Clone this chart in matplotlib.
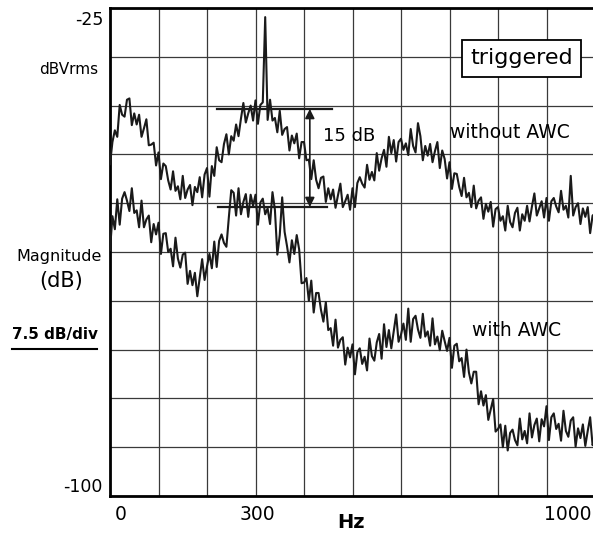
import numpy as np
import matplotlib
matplotlib.use("Agg")
import matplotlib.pyplot as plt
from matplotlib.lines import Line2D

# Spectrum analyser trace, 5 Hz bins from 0 to 1000 Hz
freq_hz = np.linspace(0, 1000, 201)

# Magnitude in dBVrms
without_awc = [
    -49.0, -45.6, -43.8, -44.8, -39.9, -41.4, -41.7, -39.1, -38.9, -43.0,
    -41.2, -42.9, -41.4, -44.8, -43.5, -42.1, -46.1, -46.0, -45.7, -49.2,
    -47.2, -51.3, -48.9, -49.3, -51.5, -52.9, -50.1, -53.1, -52.4, -54.4,
    -50.8, -54.2, -52.9, -52.2, -55.3, -52.5, -53.3, -51.0, -54.1, -50.6,
    -49.6, -54.0, -49.3, -50.8, -46.4, -48.4, -48.7, -45.9, -44.4, -47.5,
    -44.7, -45.4, -42.9, -44.7, -42.0, -39.6, -42.6, -41.2, -40.0, -42.3,
    -39.2, -42.8, -39.9, -39.5, -26.4, -42.2, -39.1, -42.3, -41.9, -44.1,
    -40.8, -44.5, -43.6, -43.3, -46.9, -44.6, -45.8, -44.3, -48.1, -45.6,
    -45.6, -48.4, -48.3, -51.3, -48.4, -51.4, -52.7, -51.1, -50.9, -54.8,
    -52.7, -54.4, -52.9, -55.7, -53.8, -52.0, -55.6, -54.7, -53.7, -56.0,
    -52.7, -55.6, -51.9, -51.0, -52.0, -52.6, -49.1, -51.4, -50.2, -51.5,
    -47.3, -50.0, -48.1, -46.8, -49.4, -44.8, -47.3, -45.3, -48.6, -45.6,
    -45.1, -46.8, -45.8, -47.6, -43.6, -46.2, -47.2, -42.7, -44.7, -48.4,
    -46.2, -47.7, -45.9, -48.7, -47.0, -45.6, -49.6, -46.9, -48.2, -51.2,
    -48.7, -52.8, -50.4, -50.5, -52.5, -53.9, -51.1, -54.1, -53.4, -55.6,
    -52.3, -55.8, -54.6, -54.1, -57.4, -55.1, -56.3, -54.8, -58.6, -55.9,
    -55.6, -57.7, -57.0, -59.2, -55.4, -57.9, -58.7, -56.5, -55.7, -59.2,
    -56.7, -57.7, -55.4, -57.8, -55.5, -53.5, -56.9, -55.8, -54.7, -57.2,
    -54.2, -57.7, -54.7, -54.2, -55.5, -56.4, -53.1, -56.0, -55.4, -57.2,
    -50.8, -56.9, -55.6, -55.0, -58.2, -55.8, -57.1, -55.6, -59.6, -56.9,
    -56.6,
]

with_awc = [
    -62.2, -57.0, -59.0, -54.4, -58.3, -54.3, -53.3, -54.6, -56.2, -52.7,
    -56.5, -56.1, -58.7, -54.6, -58.7, -57.5, -56.9, -61.0, -58.2, -59.8,
    -58.0, -62.8, -59.7, -59.6, -62.5, -62.0, -64.7, -60.3, -63.5, -64.9,
    -62.9, -62.6, -67.4, -65.4, -67.6, -65.7, -69.3, -66.4, -63.6, -66.8,
    -64.7, -62.8, -65.0, -60.9, -64.8, -60.8, -59.8, -61.1, -61.7, -57.2,
    -53.0, -53.4, -56.9, -52.7, -56.7, -54.8, -53.6, -57.1, -53.7, -55.4,
    -53.7, -58.3, -54.9, -54.3, -56.7, -55.8, -58.2, -53.3, -56.0, -62.9,
    -59.9, -54.1, -59.4, -61.6, -64.1, -60.7, -62.8, -59.9, -62.1, -67.3,
    -67.2, -66.5, -70.0, -66.9, -71.8, -68.8, -68.8, -71.4, -73.2, -70.2,
    -74.5, -74.2, -76.9, -72.9, -77.2, -76.0, -75.6, -79.8, -77.2, -78.7,
    -76.7, -81.3, -77.9, -77.3, -79.7, -78.6, -80.7, -75.8, -78.5, -79.2,
    -76.4, -75.1, -78.9, -73.6, -77.1, -74.5, -77.3, -74.7, -72.1, -76.3,
    -75.2, -73.5, -76.0, -71.2, -76.3, -72.8, -72.3, -74.4, -75.7, -72.0,
    -75.5, -74.7, -76.9, -72.7, -76.7, -75.5, -77.6, -74.6, -76.2, -77.7,
    -75.7, -80.3, -76.9, -76.6, -79.3, -78.8, -81.7, -77.5, -81.0, -82.7,
    -80.9, -80.9, -85.9, -83.9, -86.1, -84.5, -88.3, -86.7, -85.1, -90.1,
    -89.7, -89.0, -92.5, -89.2, -93.0, -90.3, -89.8, -91.4, -92.2, -88.1,
    -91.3, -90.0, -91.9, -87.3, -91.0, -89.1, -88.1, -91.6, -88.2, -89.3,
    -86.2, -91.4, -87.9, -87.3, -89.7, -88.9, -91.5, -86.9, -90.0, -90.9,
    -88.4, -87.9, -92.4, -89.6, -91.1, -89.0, -92.3, -90.0, -87.9, -92.2,
    -91.2,
]

# Peak levels marked for the 15 dB difference
peak_without = -40.5
peak_with = -55.6
marker_hz = 412

W, H = 593, 535
fig = plt.figure(figsize=(W / 100, H / 100), dpi=100)
ax = fig.add_axes([110 / W, 39 / H, 485 / W, 488 / H])


def px(x, y):
    # pixel position (from top-left) -> figure fraction
    return x / W, 1 - y / H


ink = "#1a1a1a"
ax.plot(freq_hz, without_awc, color=ink, lw=1.5, zorder=3)
ax.plot(freq_hz, with_awc, color=ink, lw=1.5, zorder=3)

# 10 x 10 graticule
ax.set_xlim(0, 1000)
ax.set_ylim(-100, -25)
ax.set_xticks(np.arange(0, 1001, 100))
ax.set_yticks(np.arange(-100, -24, 7.5))
ax.tick_params(length=0, labelbottom=False, labelleft=False)
ax.grid(True, color="#3a3a3a", lw=0.9)
ax.set_axisbelow(True)
for side in ["left", "bottom", "top"]:
    ax.spines[side].set_linewidth(2)
    ax.spines[side].set_color("black")
ax.spines["right"].set_visible(False)

# level markers and the 15 dB arrow
ax.plot([220, 458], [peak_without, peak_without], color=ink, lw=1.6, zorder=4)
ax.plot([222, 447], [peak_with, peak_with], color=ink, lw=1.6, zorder=4)
ax.annotate("", xy=(marker_hz, peak_with), xytext=(marker_hz, peak_without),
            arrowprops=dict(arrowstyle="<|-|>", color=ink, lw=1.2,
                            mutation_scale=14, shrinkA=0, shrinkB=0), zorder=4)
ax.text(493, -44.7, "15 dB", fontsize=13, ha="center", va="center")
ax.text(701, -44.2, "without AWC", fontsize=13.5, ha="left", va="center")
ax.text(746, -74.5, "with AWC", fontsize=13.5, ha="left", va="center")
ax.text(848, -32.7, "triggered", fontsize=16, ha="center", va="center",
        bbox=dict(boxstyle="square,pad=0.38", fc="white", ec="black", lw=1.3),
        zorder=5)

# left-hand labels
fig.text(*px(103, 20), "-25", fontsize=12.5, ha="right", va="center")
fig.text(*px(103, 487), "-100", fontsize=12.5, ha="right", va="center")
fig.text(*px(69, 70), "dBVrms", fontsize=11, ha="center", va="center")
fig.text(*px(59, 257), "Magnitude", fontsize=11.5, ha="center", va="center")
fig.text(*px(61, 281), "(dB)", fontsize=15, ha="center", va="center")
fig.text(*px(55, 335), "7.5 dB/div", fontsize=11, fontweight="bold",
         ha="center", va="center")
x0, y0 = px(12, 349)
x1, _ = px(97, 349)
fig.add_artist(Line2D([x0, x1], [y0, y0], color="black", lw=1.5))

# frequency labels
fig.text(*px(121, 515), "0", fontsize=13.5, ha="center", va="center")
fig.text(*px(257, 515), "300", fontsize=13.5, ha="center", va="center")
fig.text(*px(592, 515), "1000", fontsize=13.5, ha="right", va="center")
fig.text(*px(351, 523), "Hz", fontsize=14, fontweight="bold",
         ha="center", va="center")

fig.savefig("out.png", dpi=100)
plt.close(fig)
